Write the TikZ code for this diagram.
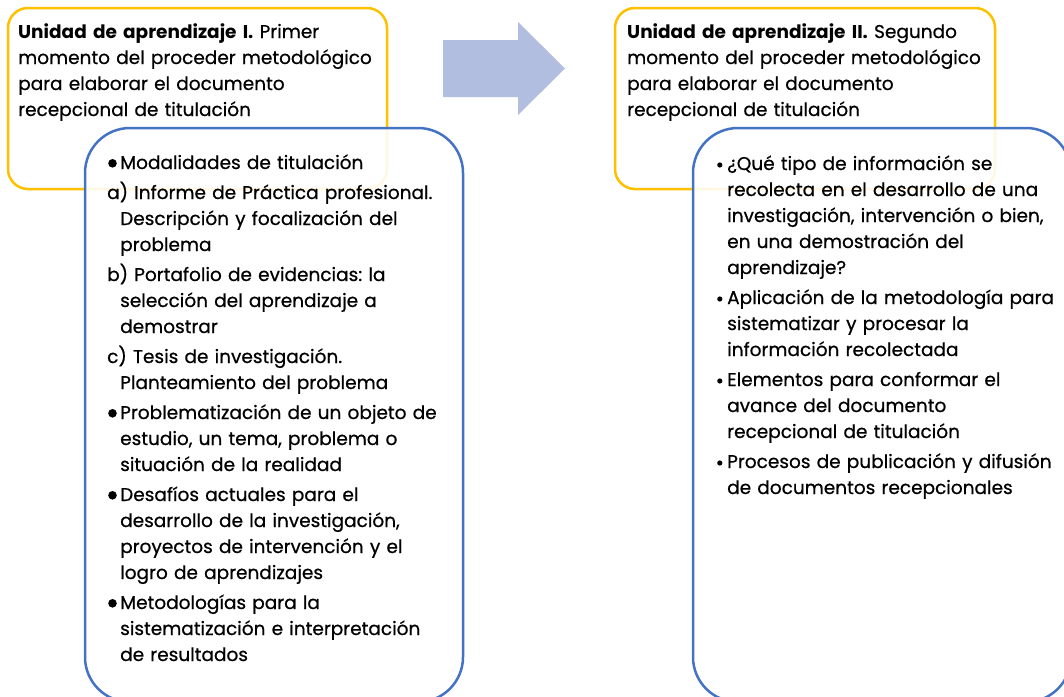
\documentclass[tikz,border=0pt]{standalone}
\usepackage{fontspec}
\setmainfont{Poppins}[UprightFeatures={FakeBold=0.6}]
\frenchspacing
\definecolor{boxyellow}{RGB}{255,192,0}
\definecolor{boxblue}{RGB}{68,114,196}
\definecolor{arrowblue}{RGB}{177,190,223}
\newcommand\bigdot{\makebox[13pt][l]{\hspace{1pt}\tikz[baseline=0pt]\fill (0,5.7pt) circle (4.3pt);}}
\newcommand\smalldot{\makebox[12pt][l]{\hspace{2pt}\tikz[baseline=0pt]\fill (0,5pt) circle (2.6pt);}}
\newcommand\firstL{\hangindent=13pt\hangafter=1\noindent}
\newcommand\itmL{\par\firstL}
\newcommand\firstR{\hangindent=12pt\hangafter=1\noindent}
\newcommand\itmR{\par\firstR}
\newcommand\bodyfont{\fontsize{18.5}{26}\selectfont\frenchspacing}
\tikzset{
  ybox/.style={draw=boxyellow, line width=2.5pt, rounded corners=20pt},
  bbox/.style={draw=boxblue, line width=2.5pt, rounded corners=45pt, fill=white, fill opacity=0.88},
  txt/.style={anchor=base west, inner sep=0pt, text width=440pt, font=\bodyfont},
  bigarrow/.style={fill=arrowblue, draw=none}
}
\begin{document}
\begin{tikzpicture}[x=1pt,y=-1pt]
\useasboundingbox (0,0) rectangle (1064,696);
% left unit
\draw[ybox] (8,8) rectangle (387,189);
\node[txt] (t1) at (18,38) {\raggedright\textbf{Unidad de aprendizaje I.} Primer\newline momento del proceder metodológico\newline para elaborar el documento\newline recepcional de titulación\par};
\draw[bbox] (85,128) rectangle (463,702);
\node[txt] (l1) at (107,169) {\raggedright\setlength\parskip{4pt}%
\firstL\bigdot Modalidades de titulación
\itmL a) Informe de Práctica profesional.\newline Descripción y focalización del\newline problema
\itmL b) Portafolio de evidencias: la\newline selección del aprendizaje a\newline demostrar
\itmL c) Tesis de investigación.\newline Planteamiento del problema
\itmL\bigdot Problematización de un objeto de\newline estudio, un tema, problema o\newline situación de la realidad
\itmL\bigdot Desafíos actuales para el\newline desarrollo de la investigación,\newline proyectos de intervención y el\newline logro de aprendizajes
\itmL\bigdot Metodologías para la\newline sistematización e interpretación\newline de resultados\par};
% arrow
\path[bigarrow] (443,40) -- (518,40) -- (518,22) -- (565,68.5) -- (518,115) -- (518,97) -- (443,97) -- cycle;
% right unit
\draw[ybox] (615,8) rectangle (995,189);
\node[txt] (t2) at (627,38) {\raggedright\textbf{Unidad de aprendizaje II.} Segundo\newline momento del proceder metodológico\newline para elaborar el documento\newline recepcional de titulación\par};
\draw[bbox] (693,128) rectangle (1071,702);
\node[txt] (r1) at (715,170) {\raggedright\setlength\parskip{4pt}%
\firstR\smalldot ¿Qué tipo de información se\newline recolecta en el desarrollo de una\newline investigación, intervención o bien,\newline en una demostración del\newline aprendizaje?
\itmR\smalldot Aplicación de la metodología para\newline sistematizar y procesar la\newline información recolectada
\itmR\smalldot Elementos para conformar el\newline avance del documento\newline recepcional de titulación
\itmR\smalldot Procesos de publicación y difusión\newline de documentos recepcionales\par};
\end{tikzpicture}
\end{document}
